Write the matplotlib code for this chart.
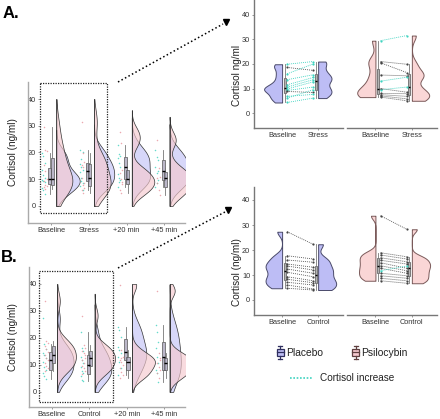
import numpy as np
import matplotlib
matplotlib.use("Agg")
import matplotlib.pyplot as plt
from matplotlib.patches import Rectangle

plt.rcParams['font.family'] = ['Liberation Sans', 'DejaVu Sans']

# ---- data (cortisol, ng/ml) ----
# panel A, paired subjects: baseline vs stress
a_pla_base = [19.9, 18.6, 16.0, 13.6, 11.5, 10.6, 9.8, 9.2, 8.8, 6.8, 6.1, 4.3]
a_pla_stress = [21.0, 17.4, 20.0, 15.6, 14.5, 13.6, 12.7, 10.6, 8.4, 7.6, 9.5, 6.1]
a_psi_base = [29.5, 21.0, 20.5, 15.5, 13.0, 10.0, 9.5, 8.0, 7.5, 7.0, 6.5]
a_psi_stress = [31.6, 19.9, 16.5, 15.2, 14.6, 8.5, 10.6, 7.9, 6.8, 5.8, 5.0]
# panel A, later time points
a_pla_20 = [22.8, 19.4, 18.7, 17.8, 16.0, 14.5, 11.8, 10.4, 9.7, 7.2, 8.9]
a_psi_20 = [27.5, 23.7, 13.5, 12.5, 10.0, 8.2, 6.0, 4.7, 9.0]
a_pla_45 = [20.9, 18.4, 17.2, 14.5, 12.2, 9.7, 7.2, 8.5, 13.0]
a_psi_45 = [24.7, 14.1, 11.0, 8.5, 6.0, 4.1, 10.5]

# panel B, paired subjects: baseline vs control
b_pla_base = [27.3, 17.7, 16.0, 14.4, 13.6, 12.4, 11.1, 9.3, 8.3, 7.1, 6.0, 4.7]
b_pla_ctrl = [22.3, 16.4, 15.1, 13.1, 12.0, 10.7, 9.3, 7.7, 6.9, 6.0, 4.4, 4.0]
b_psi_base = [33.7, 18.9, 18.0, 16.9, 15.9, 14.9, 13.7, 12.7, 11.7, 10.7, 9.7, 8.7, 7.7]
b_psi_ctrl = [28.3, 17.3, 16.4, 15.3, 14.4, 12.7, 11.7, 10.7, 13.6, 9.7, 8.7, 7.7, 6.7]
# panel B, later time points
b_pla_20 = [24.2, 23.0, 20.5, 16.8, 15.6, 14.3, 13.1, 11.2, 8.8, 6.3]
b_psi_20 = [39.6, 15.6, 13.1, 11.9, 11.2, 10.0, 8.8, 7.5, 6.3, 5.1, 12.5]
b_pla_45 = [24.8, 22.3, 18.6, 16.2, 13.1, 10.6, 8.1, 6.9, 3.8]
b_psi_45 = [37.5, 14.3, 11.9, 10.6, 9.4, 8.1, 6.9, 5.1, 12.5]

labels_a = ['Baseline', 'Stress', '+20 min', '+45 min']
labels_b = ['Baseline', 'Control', '+20 min', '+45 min']
y_ticks = [0, 10, 20, 30, 40]

BLUE = (0.74, 0.74, 0.96)
PINK = (0.96, 0.79, 0.81)
TEAL = '#3fd3c0'
PTS_PINK = '#e7959c'

W, H = 440, 419
fig = plt.figure(figsize=(W / 100, H / 100), dpi=100)


def px_axes(x0, y0, x1, y1):
    return fig.add_axes([x0 / W, 1 - y1 / H, (x1 - x0) / W, (y1 - y0) / H])


def kde(vals, trim, adjust=1.0, lo=0, hi=40):
    v = np.asarray(vals, float)
    n = len(v)
    iqr = np.subtract(*np.percentile(v, [75, 25]))
    bw = adjust * 0.9 * min(v.std(ddof=1), iqr / 1.34) * n ** -0.2
    if trim:
        a, b = v.min(), v.max()
    else:
        a, b = v.min() - 3 * bw, v.max() + 3 * bw
    y = np.linspace(max(a, lo), min(b, hi), 200)
    d = np.exp(-0.5 * ((y[:, None] - v[None, :]) / bw) ** 2).sum(1) / (n * bw * np.sqrt(2 * np.pi))
    return y, d


def style_axes(ax, ylim, xlim, spine_col, left=True):
    ax.set_ylim(*ylim)
    ax.set_xlim(*xlim)
    ax.set_facecolor('none')
    for s in ['top', 'right']:
        ax.spines[s].set_visible(False)
    for s in ['left', 'bottom']:
        ax.spines[s].set_color(spine_col)
        ax.spines[s].set_linewidth(1.0)
    ax.tick_params(labelsize=5.3, colors='#888888', labelcolor='#333333',
                   length=1.5, width=0.6, pad=1.2)
    if left:
        ax.set_yticks(y_ticks)
    else:
        ax.spines['left'].set_visible(False)
        ax.set_yticks([])


def small_boxes(ax, data, positions, width, face):
    bp = ax.boxplot(data, positions=positions, widths=width, patch_artist=True,
                    showfliers=False, showcaps=False, manage_ticks=False)
    for b in bp['boxes']:
        b.set_facecolor(face)
        b.set_edgecolor('#555555')
        b.set_linewidth(0.5)
    for w in bp['whiskers']:
        w.set_color('#777777')
        w.set_linewidth(0.6)
    for m in bp['medians']:
        m.set_color('black')
        m.set_linewidth(1.0)


def raincloud(ax, groups, labels):
    # y axis labels sit inside the grey frame line, as in the original
    ax.spines['left'].set_position(('data', 0.70))
    ax.spines['left'].set_visible(False)
    ax.axvline(ax.get_xlim()[0], color='#aaaaaa', lw=1.0, clip_on=False)
    dens = [(kde(p, False, 1.2), kde(q, False, 1.2)) for p, q in groups]
    dmax = max(d.max() for pair in dens for _, d in pair)
    sc = 0.62 / dmax
    for i, ((pla, psi), pair) in enumerate(zip(groups, dens)):
        x = i + 1
        base = x + 0.14
        for (y, d), fc, a in zip(pair, [BLUE, PINK], [0.6, 0.65]):
            ax.fill_betweenx(y, base, base + d * sc, facecolor=fc + (a,),
                             edgecolor='#333333', linewidth=0.5, zorder=2)
        ax.plot([base, base], [0, max(pair[0][0].max(), pair[1][0].max())],
                color='#333333', lw=0.5, zorder=2)
        small_boxes(ax, [pla, psi], [x - 0.03, x + 0.03], 0.08, (0.62, 0.6, 0.7, 0.7))
        for vals, col, off in [(pla, TEAL, -0.2), (psi, PTS_PINK, -0.15)]:
            jit = ((np.arange(len(vals)) % 3) - 1) * 0.035
            ax.scatter(x + off + jit, vals, s=1.2, color=col, alpha=0.8,
                       linewidths=0, zorder=3)
    ax.set_xticks(range(1, len(labels) + 1))
    ax.set_xticklabels(labels)


def paired(ax, pre, post, face, edge, dmax):
    sc = 0.5 / dmax
    yb, db = kde(pre, True, 0.6)
    yp, dp = kde(post, True, 0.6)
    ax.fill_betweenx(yb, 1 - db * sc, 1, facecolor=face, edgecolor=edge, linewidth=0.7)
    ax.fill_betweenx(yp, 2, 2 + dp * sc, facecolor=face, edgecolor=edge, linewidth=0.7)
    small_boxes(ax, [pre, post], [1.07, 1.93], 0.06, (0.7, 0.7, 0.7))
    for a, b in zip(pre, post):
        up = b > a
        ax.plot([1.14, 1.86], [a, b], ls=(0, (1.2, 1.2)), lw=0.6,
                color=TEAL if up else '#555555', zorder=3)
        ax.scatter([1.14, 1.86], [a, b], s=2.5, color=TEAL if up else '#444444',
                   linewidths=0, zorder=4)
    ax.set_xticks([1, 2])


# ---- left panels ----
axA = px_axes(28, 82, 185, 223)
style_axes(axA, (-6.4, 46.4), (0.39, 4.55), '#aaaaaa')
raincloud(axA, [(a_pla_base, a_psi_base), (a_pla_stress, a_psi_stress),
                (a_pla_20, a_psi_20), (a_pla_45, a_psi_45)], labels_a)

axB = px_axes(29, 267, 185, 407)
style_axes(axB, (-5.6, 46.3), (0.39, 4.55), '#aaaaaa')
raincloud(axB, [(b_pla_base, b_psi_base), (b_pla_ctrl, b_psi_ctrl),
                (b_pla_20, b_psi_20), (b_pla_45, b_psi_45)], labels_b)

# ---- right panels (zoom-ins) ----
for (top, bot, ylim, pla, psi, labs) in [
        (0, 128, (-6.1, 46.1), (a_pla_base, a_pla_stress), (a_psi_base, a_psi_stress), labels_a[:2]),
        (187, 315, (-6.0, 45.2), (b_pla_base, b_pla_ctrl), (b_psi_base, b_psi_ctrl), labels_b[:2])]:
    d_all = [kde(v, True, 0.6)[1].max() for v in pla + psi]
    ax1 = px_axes(254, top, 343, bot)
    style_axes(ax1, ylim, (0.22, 2.69), '#777777')
    paired(ax1, pla[0], pla[1], BLUE, '#4a4a6a', max(d_all[:2]))
    ax1.set_xticklabels(labs)
    ax2 = px_axes(347, top, 437, bot)
    style_axes(ax2, ylim, (0.22, 2.69), '#777777', left=False)
    paired(ax2, psi[0], psi[1], (0.98, 0.84, 0.84), '#7a5a5a', max(d_all[2:]))
    ax2.set_xticklabels(labs)

# ---- annotations ----
ov = fig.add_axes([0, 0, 1, 1])
ov.set_xlim(0, W)
ov.set_ylim(H, 0)
ov.axis('off')
ov.set_facecolor('none')

ov.add_patch(Rectangle((40, 83), 67, 130, fill=False, ls=(0, (1, 1)), lw=0.9, ec='#222222'))
ov.add_patch(Rectangle((39, 271), 74, 131, fill=False, ls=(0, (1, 1)), lw=0.9, ec='#222222'))
ov.plot([118, 223], [82, 24], ls=(0, (1, 1.6)), lw=1.1, color='black')
ov.plot([226], [22], marker='v', ms=5, color='black')
ov.plot([118, 225], [268, 212], ls=(0, (1, 1.6)), lw=1.1, color='black')
ov.plot([228], [210], marker='v', ms=5, color='black')

ov.text(3, 13, 'A.', fontsize=12, fontweight='bold', va='center')
ov.text(1, 257, 'B.', fontsize=12, fontweight='bold', va='center')
ov.text(13, 152, 'Cortisol (ng/ml)', fontsize=7.2, rotation=90, ha='center', va='center', color='#222222')
ov.text(13, 337, 'Cortisol (ng/ml)', fontsize=7.2, rotation=90, ha='center', va='center', color='#222222')
ov.text(237, 75, 'Cortisol ng/ml', fontsize=7.2, rotation=90, ha='center', va='center', color='#222222')
ov.text(237, 272, 'Cortisol (ng/ml)', fontsize=7.2, rotation=90, ha='center', va='center', color='#222222')

# legend
for xc, face, edge, txt in [(280, BLUE, '#2f2f5f', 'Placebo'),
                            (355.5, PINK, '#5f3f3f', 'Psilocybin')]:
    ov.add_patch(Rectangle((xc - 3.5, 348.5), 7, 7.5, fc=face, ec=edge, lw=0.9))
    ov.plot([xc - 3.5, xc + 3.5], [352.2, 352.2], color=edge, lw=0.9)
    ov.plot([xc, xc], [346, 348.5], color=edge, lw=0.9)
    ov.plot([xc, xc], [356, 358.5], color=edge, lw=0.9)
    ov.plot([xc - 2, xc + 2], [346, 346], color=edge, lw=0.9)
    ov.plot([xc - 2, xc + 2], [358.5, 358.5], color=edge, lw=0.9)
    ov.text(xc + 6, 352.5, txt, fontsize=7.4, va='center', color='#222222')
ov.plot([290, 312], [378, 378], ls=(0, (1, 1)), lw=1.2, color=TEAL)
ov.text(320, 378, 'Cortisol increase', fontsize=7.2, va='center', color='#222222')

fig.savefig('out.png', dpi=100)
